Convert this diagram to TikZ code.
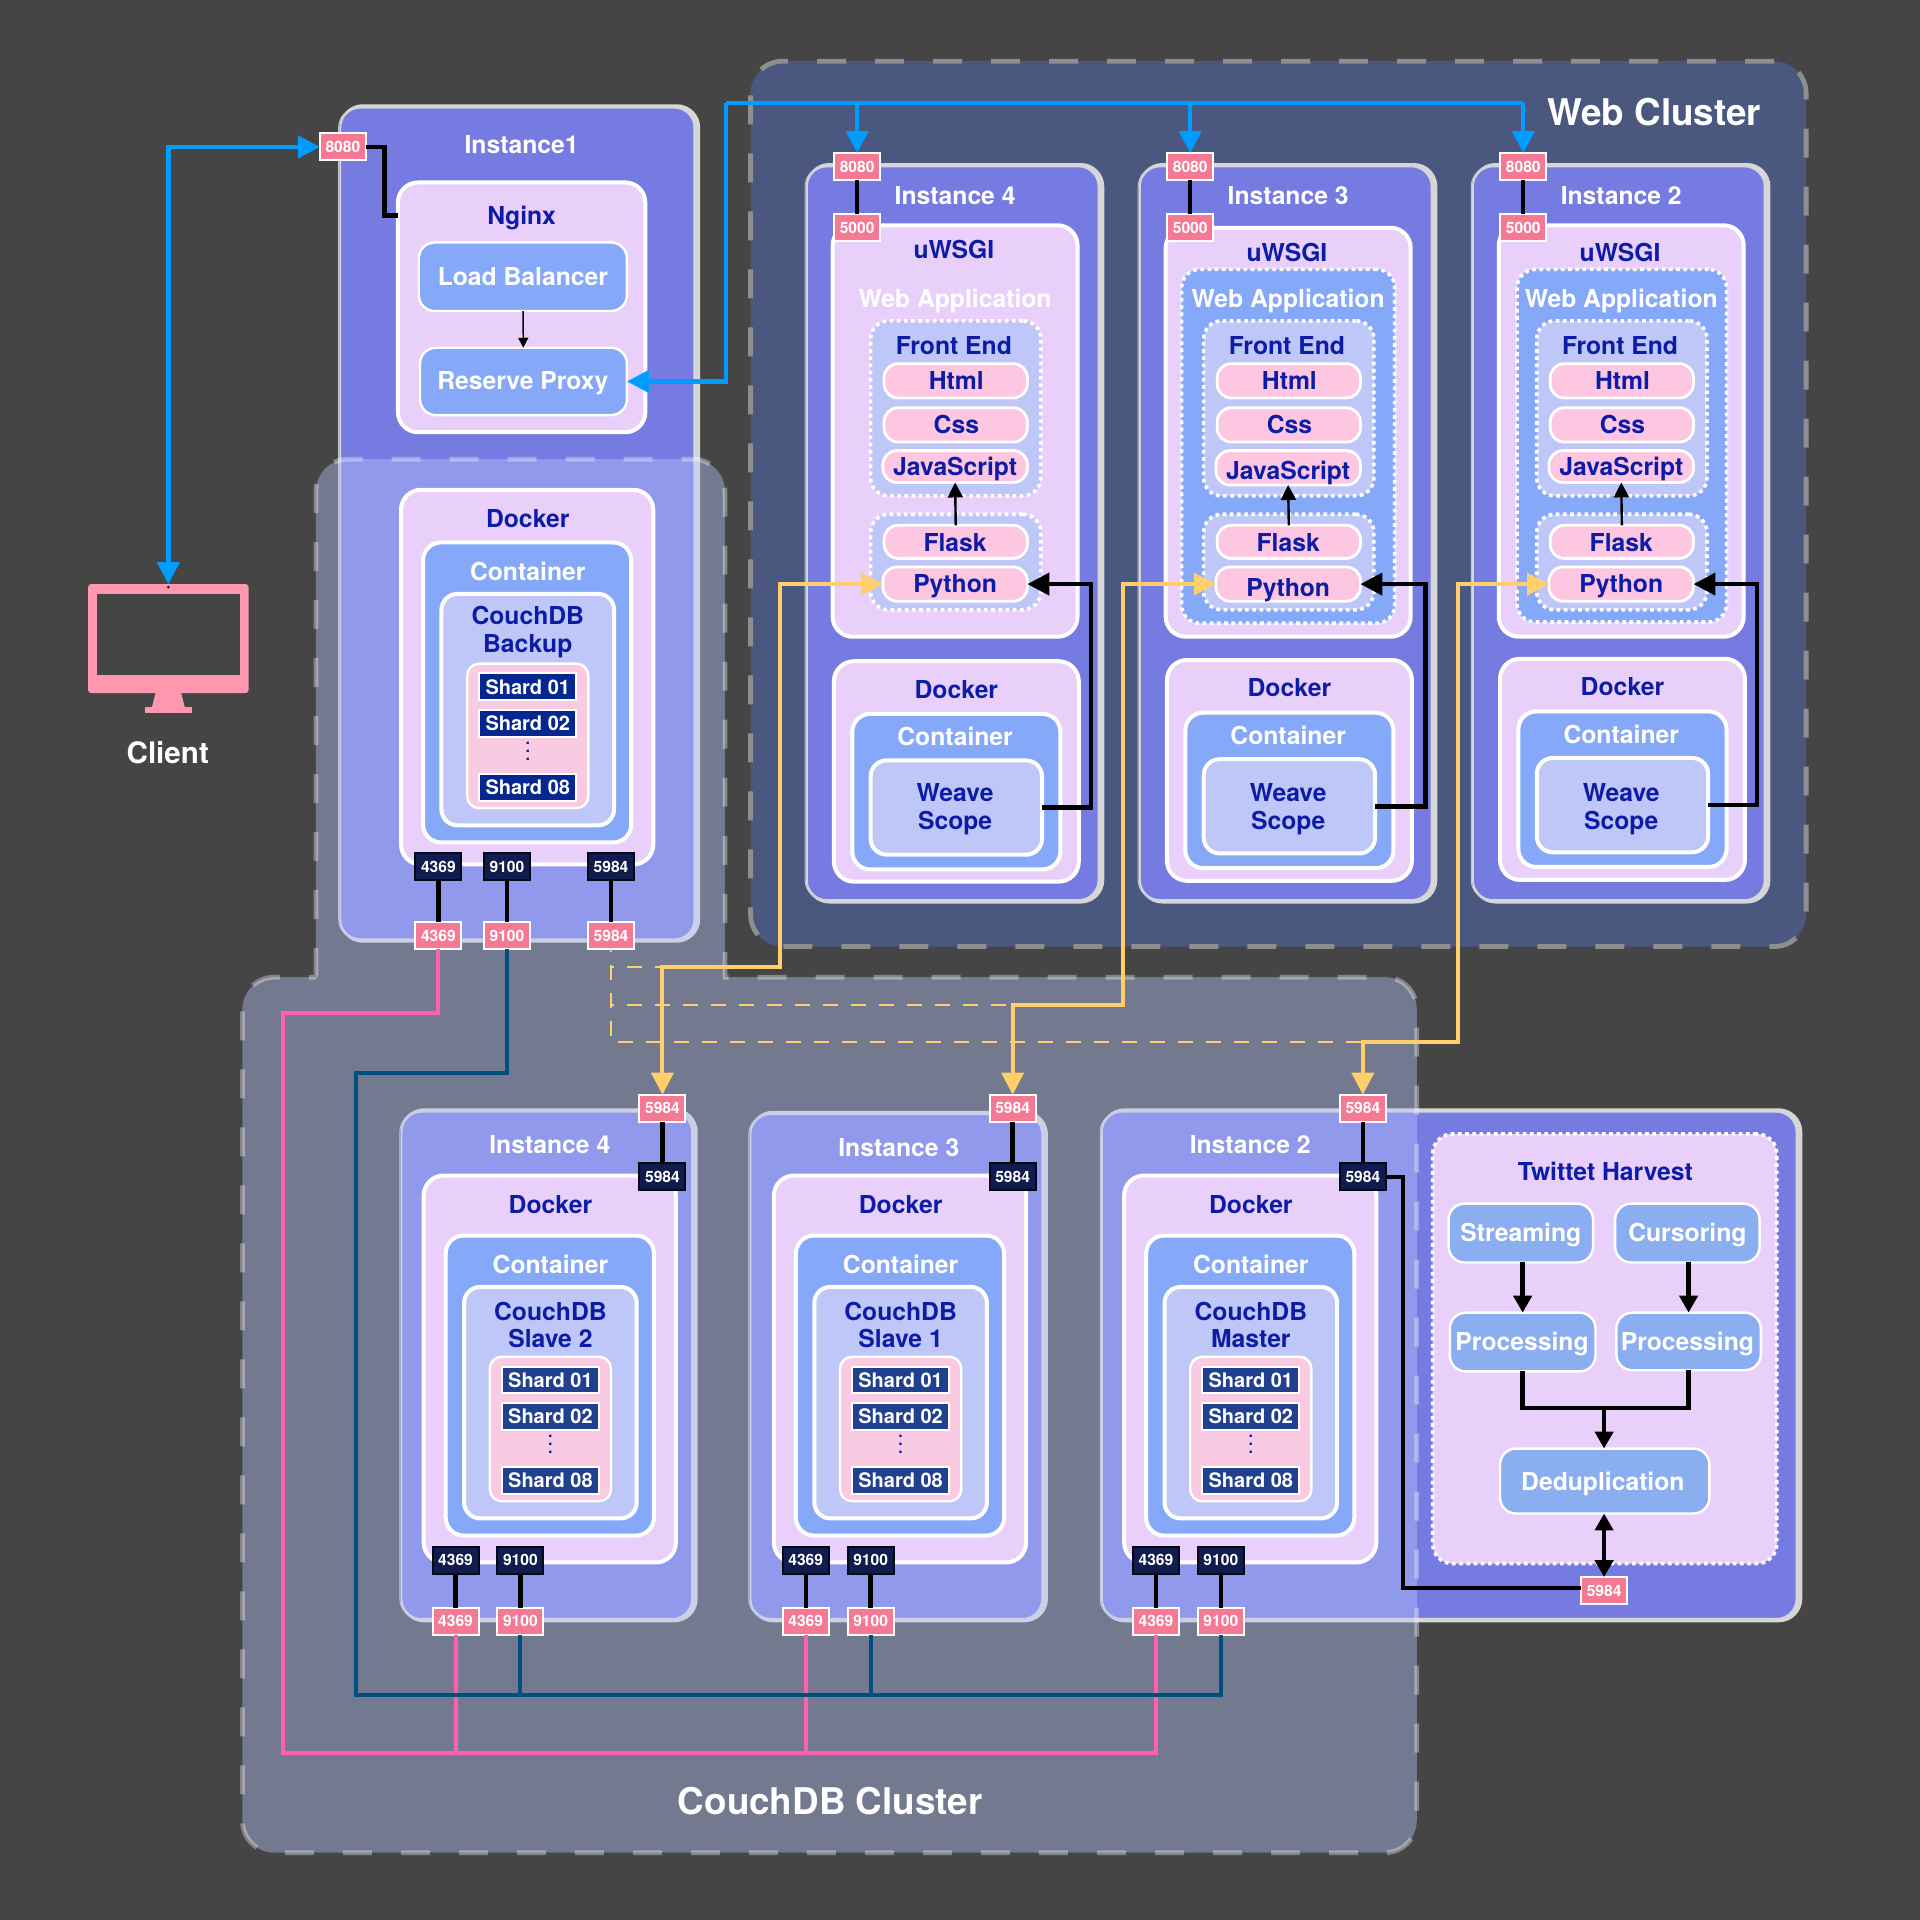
\documentclass[tikz,border=0pt]{standalone}
\usepackage{fontspec}
\setmainfont{TeX Gyre Heros}
\usetikzlibrary{arrows.meta}
\definecolor{backdrop}{HTML}{454545}
\definecolor{webfill}{HTML}{4A5880}
\definecolor{overlayfill}{HTML}{BAC7FF}
\definecolor{instfill}{HTML}{757BE0}
\definecolor{sketchgray}{HTML}{D6D6D6}
\definecolor{lilac}{HTML}{E9D0FB}
\definecolor{cornflower}{HTML}{85A9F8}
\definecolor{harvestblue}{HTML}{8BAEF0}
\definecolor{paleblue}{HTML}{BFC7F8}
\definecolor{pillpink}{HTML}{FDC7E2}
\definecolor{stackpink}{HTML}{F9CBE3}
\definecolor{sharddeep}{HTML}{06278F}
\definecolor{shardblue}{HTML}{21408F}
\definecolor{portred}{HTML}{F67994}
\definecolor{portnavy}{HTML}{101B4E}
\definecolor{screenpink}{HTML}{FF97AE}
\definecolor{wireblue}{HTML}{009CFF}
\definecolor{wireyellow}{HTML}{FFCF6B}
\definecolor{wirepink}{HTML}{FF5FB0}
\definecolor{wirenavy}{HTML}{00507F}
\definecolor{textnavy}{HTML}{0C1CA6}
\tikzset{
	plainbox/.style={inner sep=0pt,outer sep=0pt},
	instancebox/.style={plainbox,fill=instfill,draw=sketchgray,line width=.8pt,rounded corners=10pt,
		preaction={draw=sketchgray,line width=3.5pt,transform canvas={xshift=1.2pt}},
		preaction={draw=sketchgray!80!instfill,line width=.5pt,transform canvas={xshift=-.9pt}}},
	lilacbox/.style={plainbox,fill=lilac,draw=white,line width=2pt,rounded corners=10pt},
	bluebox/.style={plainbox,fill=cornflower,draw=white,line width=2pt,rounded corners=9pt},
	palebox/.style={plainbox,fill=paleblue,draw=white,line width=2pt,rounded corners=8pt},
	buttonbox/.style={plainbox,fill=cornflower,draw=white,line width=1.2pt,rounded corners=8pt},
	pillbox/.style={plainbox,fill=pillpink,draw=white,line width=1.4pt,rounded corners=7pt},
	stackbox/.style={plainbox,fill=stackpink,draw=white,line width=1.2pt,rounded corners=6pt},
	shardbox/.style={plainbox,draw=white,line width=1pt},
	dotbox/.style={plainbox,draw=white,line width=1.8pt,dash pattern=on 1.8pt off 1.8pt,rounded corners=9pt},
	portpink/.style={plainbox,fill=portred,draw=white,line width=1pt,minimum width=23pt,minimum height=13.5pt,text=white,font=\bfseries\fontsize{7.8}{9}\selectfont},
	portdark/.style={portpink,fill=portnavy,draw=black!70!portnavy},
	labelwhite/.style={inner sep=0pt,text=white,text height=8.8pt,text depth=0pt,font=\bfseries\fontsize{12.35}{14}\selectfont},
	labelnavy/.style={labelwhite,text=textnavy},
	labelshard/.style={labelwhite,text height=7.2pt,font=\bfseries\fontsize{10}{12}\selectfont},
	labeldots/.style={labelwhite,text=textnavy,text height=6pt,font=\bfseries\fontsize{8}{9}\selectfont},
	labelbig/.style={labelwhite,text height=13pt,font=\bfseries\fontsize{18.4}{22}\selectfont},
	blackwire/.style={draw=black,line width=2.2pt},
	bluewire/.style={draw=wireblue,line width=2.2pt},
	yellowwire/.style={draw=wireyellow,line width=2pt},
	yellowdash/.style={draw=wireyellow,line width=1pt,dash pattern=on 7.5pt off 6.5pt,dash phase=6pt},
	pinkwire/.style={draw=wirepink,line width=2pt},
	navywire/.style={draw=wirenavy,line width=2pt},
	bigtip/.style={-{Triangle[length=11pt,width=11pt]}}
}
%Box from its corners in picture units
\newcommand{\boxat}[6]{
	\node [#2,minimum width={((#5)-(#3))*0.61224pt},minimum height={((#6)-(#4))*0.61224pt}] (#1) at ({((#3)+(#5))/2},{((#4)+(#6))/2}) {};
}
\begin{document}
\begin{tikzpicture}[x=0.61224pt,y=-0.61224pt]
	\fill [backdrop] (0,0) rectangle (1568,1568);
	\useasboundingbox (0,0) rectangle (1568,1568);
	%Web cluster
	\boxat{webcluster}{plainbox,fill=webfill,draw=black!25!white!60!backdrop,line width=2.4pt,dash pattern=on 14.5pt off 14.5pt,rounded corners=16pt}{613}{50}{1475}{773}
	\boxat{instweba}{instancebox}{659}{136}{897}{735}
	\boxat{instwebb}{instancebox}{931}{136}{1169}{735}
	\boxat{instwebc}{instancebox}{1203}{136}{1441}{735}
	%Instances under the CouchDB cluster
	\boxat{instnginx}{instancebox}{278}{88}{567}{767}
	\boxat{instcouaa}{instancebox}{328}{908}{565}{1322}
	\boxat{instcoubb}{instancebox}{613}{910}{851}{1322}
	\boxat{instcoucc}{instancebox}{900}{908}{1467}{1322}
	%CouchDB cluster, see through
	\path [fill=overlayfill,fill opacity=.4,draw=white,draw opacity=.35,line width=2.4pt,dash pattern=on 14.5pt off 14.5pt]
		(258,798) [rounded corners=16pt] -- (258,375) -- (592,375) [sharp corners] -- (592,798) [rounded corners=16pt] -- (1157,798)
		-- (1157,1513) -- (198,1513) -- (198,798) [sharp corners] -- cycle;
	\node [labelbig] (webtitle) at (1351,92) {Web Cluster};
	\node [labelbig] (couchtitle) at (678,1471) {CouchDB Cluster};
	%Client
	\boxat{monitor}{plainbox,fill=screenpink,rounded corners=1.5pt}{72}{477}{203}{566}
	\boxat{screen}{plainbox,fill=backdrop}{79}{485}{196}{551}
	\fill [screenpink] (127,566) -- (148,566) -- (151,578) -- (124,578) -- cycle;
	\boxat{monitorfoot}{plainbox,fill=screenpink}{118.5}{577}{157}{582}
	\fill [black] (137.5,479.5) circle (.7pt);
	\node [labelwhite,text height=10.6pt,font=\bfseries\fontsize{14.8}{17}\selectfont] (client) at (137,615) {Client};
	%Nginx instance
	\node [labelwhite] (instnginxname) at (426,118) {Instance1};
	\boxat{nginx}{lilacbox}{325}{149}{527}{353}
	\node [labelnavy] (nginxname) at (426,176) {Nginx};
	\boxat{balancer}{buttonbox}{342}{198}{512}{254}
	\node [labelwhite] (balancername) at (427,226) {Load Balancer};
	\boxat{proxy}{buttonbox}{343}{284}{512}{339}
	\node [labelwhite] (proxyname) at (427,311) {Reserve Proxy};
	\node [portpink] (nginxport) at (280,120) {8080};
	%CouchDB stacks
	\foreach \n/\x/\y/\dt/\db/\sc/\ca/\cb/\lab in {back/-18.5/-566/400/706/sharddeep/-2/-1/Backup,aa/0/0/960/1276/shardblue/0/0/Slave 2,bb/286/0/960/1276/shardblue/0/0/Slave 1,cc/572/0/960/1276/shardblue/0/0/Master} {
		\boxat{docker\n}{lilacbox}{346+\x}{\dt}{552+\x}{\db}
		\node [labelnavy] (dockername\n) at ({449.5+\x},{\dt+24}) {Docker};
		\boxat{container\n}{bluebox}{364+\x}{1009+\y}{534+\x}{1254+\y}
		\node [labelwhite] (containername\n) at ({449.5+\x},{1033+\y}) {Container};
		\boxat{couch\n}{palebox}{379+\x}{1051+\y}{520+\x}{1240+\y}
		\node [labelnavy] (couchname\n) at ({449.5+\x},{1071+\y+\ca}) {CouchDB};
		\node [labelnavy] (couchrole\n) at ({449.5+\x},{1093+\y+\cb}) {\lab};
		\boxat{stack\n}{stackbox}{400+\x}{1108+\y}{499+\x}{1226+\y}
		\boxat{sharda\n}{shardbox,fill=\sc}{410+\x}{1116+\y}{489+\x}{1138+\y}
		\node [labelshard] (shardaname\n) at ({449.5+\x},{1127+\y}) {Shard 01};
		\boxat{shardb\n}{shardbox,fill=\sc}{410+\x}{1146+\y}{489+\x}{1168+\y}
		\node [labelshard] (shardbname\n) at ({449.5+\x},{1157+\y}) {Shard 02};
		\node [labeldots] (sharddots\n) at ({449.5+\x},{1182+\y}) {$\vdots$};
		\boxat{shardc\n}{shardbox,fill=\sc}{410+\x}{1198+\y}{489+\x}{1220+\y}
		\node [labelshard] (shardcname\n) at ({449.5+\x},{1209+\y}) {Shard 08};
	}
	\node [labelwhite] (instcounameaa) at (449,935) {Instance 4};
	\node [labelwhite] (instcounamebb) at (734,937) {Instance 3};
	\node [labelwhite] (instcounamecc) at (1021,935) {Instance 2};
	%CouchDB ports
	\node [portdark] (backdarka) at (358,708) {4369};
	\node [portdark] (backdarkb) at (414,708) {9100};
	\node [portdark] (backdarkc) at (499,708) {5984};
	\node [portpink] (backpinka) at (358,764) {4369};
	\node [portpink] (backpinkb) at (414,764) {9100};
	\node [portpink] (backpinkc) at (499,764) {5984};
	\foreach \n/\x/\u/\v in {aa/541/372/425,bb/827/658/711,cc/1113/944/997} {
		\node [portpink] (toppink\n) at (\x,905) {5984};
		\node [portdark] (topdark\n) at (\x,961) {5984};
		\node [portdark] (lowdarka\n) at (\u,1274) {4369};
		\node [portdark] (lowdarkb\n) at (\v,1274) {9100};
		\node [portpink] (lowpinka\n) at (\u,1324) {4369};
		\node [portpink] (lowpinkb\n) at (\v,1324) {9100};
		\draw [blackwire] (toppink\n) -- (topdark\n);
		\draw [blackwire] (lowdarka\n) -- (lowpinka\n);
		\draw [blackwire] (lowdarkb\n) -- (lowpinkb\n);
	}
	%Web instances
	\boxat{uwsgia}{lilacbox}{680}{184}{880}{520}
	\boxat{uwsgib}{lilacbox}{952}{186}{1152}{520}
	\boxat{uwsgic}{lilacbox}{1224}{184}{1424}{520}
	\boxat{appb}{dotbox,fill=cornflower}{965}{220}{1139}{509}
	\boxat{appc}{dotbox,fill=cornflower}{1239}{220}{1410}{508}
	\foreach \n/\x/\j/\d/\u/\nm in {a/0/0/0/204/Instance 4,b/272/3/-1/206/Instance 3,c/544/0/-2/206/Instance 2} {
		\node [labelwhite] (instname\n) at ({780+\x},160) {\nm};
		\node [labelnavy] (uwsginame\n) at ({779+\x},\u) {uWSGI};
		\node [labelwhite] (appname\n) at ({780+\x},244) {Web Application};
		\boxat{front\n}{dotbox,fill=paleblue}{711+\x}{262}{850+\x}{405}
		\node [labelnavy] (frontname\n) at ({779+\x},282) {Front End};
		\boxat{html\n}{pillbox}{722+\x}{297}{839+\x}{325}
		\node [labelnavy] (htmlname\n) at ({781+\x},311) {Html};
		\boxat{css\n}{pillbox}{722+\x}{333}{839+\x}{361}
		\node [labelnavy] (cssname\n) at ({781+\x},347) {Css};
		\boxat{script\n}{pillbox}{721+\x}{368}{839+\x}{394+\j*.7}
		\node [labelnavy] (scriptname\n) at ({780+\x},381+\j) {JavaScript};
		\boxat{back\n}{dotbox,fill=paleblue}{711+\x}{420}{850+\x}{498}
		\boxat{flask\n}{pillbox}{722+\x}{429}{839+\x}{456}
		\node [labelnavy] (flaskname\n) at ({780+\x},443) {Flask};
		\boxat{python\n}{pillbox}{721+\x}{463}{839+\x}{491}
		\node [labelnavy] (pythonname\n) at ({780+\x},477+\j) {Python};
		\draw [blackwire,line width=1.2pt,-{Triangle[length=7.5pt,width=7.5pt]}] (flask\n.north) -- (script\n.south);
		\boxat{dock\n}{lilacbox}{681+\x}{540+\d}{881+\x}{720+\d*.7}
		\node [labelnavy] (dockname\n) at ({781+\x},563+\d) {Docker};
		\boxat{cont\n}{bluebox}{696+\x}{583+\d}{866+\x}{710+\d}
		\node [labelwhite] (contname\n) at ({780+\x},602+\d) {Container};
		\boxat{weave\n}{palebox}{711+\x}{621+\d}{851+\x}{698+\d}
		\node [labelnavy] (weavename\n) at ({780+\x},647) {Weave};
		\node [labelnavy] (scopename\n) at ({780+\x},670) {Scope};
		\node [portpink] (webporta\n) at ({700+\x},136) {8080};
		\node [portpink] (webportb\n) at ({700+\x},186) {5000};
		\draw [blackwire] (webporta\n) -- (webportb\n);
	}
	%Twitter harvest
	\boxat{harvest}{dotbox,fill=lilac,rounded corners=10pt}{1170}{926}{1451}{1277}
	\node [labelnavy] (harvestname) at (1311,957) {Twittet Harvest};
	\boxat{streaming}{buttonbox,fill=harvestblue}{1183}{983}{1301}{1031}
	\node [labelwhite] (streamingname) at (1242,1007) {Streaming};
	\boxat{cursoring}{buttonbox,fill=harvestblue}{1319}{983}{1437}{1031}
	\node [labelwhite] (cursoringname) at (1378,1007) {Cursoring};
	\boxat{processa}{buttonbox,fill=harvestblue}{1184}{1072}{1303}{1120}
	\node [labelwhite] (processaname) at (1243,1096) {Processing};
	\boxat{processb}{buttonbox,fill=harvestblue}{1320}{1072}{1438}{1119}
	\node [labelwhite] (processbname) at (1378,1096) {Processing};
	\boxat{dedup}{buttonbox,fill=harvestblue}{1225}{1183}{1396}{1236}
	\node [labelwhite] (dedupname) at (1309,1210) {Deduplication};
	\node [portpink] (harvestport) at (1310,1299) {5984};
	%Wires of the Nginx instance
	\coordinate (nginxturn) at (314,120);
	\coordinate (busleft) at (593,84);
	\coordinate (busright) at (1244,84);
	\draw [blackwire] (nginxport.east) -- (nginxturn) |- (nginx.west |- nginxname);
	\draw [blackwire,line width=.7pt,-{Triangle[length=5pt,width=5pt]}] (balancer) -- (proxy);
	\draw [bluewire,{Triangle[length=11pt,width=11pt]}-{Triangle[length=11pt,width=11pt]}] (nginxport.west) -| (monitor.north);
	\draw [bluewire,bigtip] (busleft) |- (proxy.east);
	\draw [bluewire] (busleft) -- (busright);
	\draw [bluewire,bigtip] (webportaa.north |- busleft) -- (webportaa.north);
	\draw [bluewire,bigtip] (webportab.north |- busleft) -- (webportab.north);
	\draw [bluewire,bigtip] (webportac.north |- busleft) -- (webportac.north);
	%Wires of the CouchDB backup
	\draw [blackwire] (backdarka) -- (backpinka);
	\draw [blackwire] (backdarkb) -- (backpinkb);
	\draw [blackwire] (backdarkc) -- (backpinkc);
	\coordinate (pinkturn) at (231,827);
	\coordinate (pinkbus) at (231,1432);
	\coordinate (navyturn) at (291,876);
	\coordinate (navybus) at (291,1384);
	\draw [pinkwire] (backpinka.south) |- (pinkturn) -- (pinkbus) -- (lowpinkacc.south |- pinkbus) -- (lowpinkacc.south);
	\draw [pinkwire] (lowpinkaaa.south) -- (lowpinkaaa.south |- pinkbus);
	\draw [pinkwire] (lowpinkabb.south) -- (lowpinkabb.south |- pinkbus);
	\draw [navywire] (backpinkb.south) |- (navyturn) -- (navybus) -- (lowpinkbcc.south |- navybus) -- (lowpinkbcc.south);
	\draw [navywire] (lowpinkbaa.south) -- (lowpinkbaa.south |- navybus);
	\draw [navywire] (lowpinkbbb.south) -- (lowpinkbbb.south |- navybus);
	%Wires from Weave Scope to Python
	\coordinate (weaveturna) at (891,477);
	\coordinate (weaveturnb) at (1164,477);
	\coordinate (weaveturnc) at (1435,477);
	\draw [blackwire,bigtip] (weavea.east) -| (weaveturna) -- (pythona.east);
	\draw [blackwire,bigtip] (weaveb.east) -| (weaveturnb) -- (pythonb.east);
	\draw [blackwire,bigtip] (weavec.east) -| (weaveturnc) -- (pythonc.east);
	%Wires from Python to CouchDB
	\coordinate (yellowturna) at (637,790);
	\coordinate (yellowturnb) at (917,821);
	\coordinate (yellowturnc) at (1191,851);
	\draw [yellowdash] (backpinkc.south) |- (toppinkcc.north |- yellowturnc);
	\draw [yellowdash] (backpinkc.south |- yellowturna) -- (toppinkaa.north |- yellowturna);
	\draw [yellowdash] (backpinkc.south |- yellowturnb) -- (toppinkbb.north |- yellowturnb);
	\draw [yellowwire,{Triangle[length=11pt,width=11pt]}-{Triangle[length=11pt,width=11pt]}] (pythona.west) -| (yellowturna) -| (toppinkaa.north);
	\draw [yellowwire,{Triangle[length=11pt,width=11pt]}-{Triangle[length=11pt,width=11pt]}] (pythonb.west) -| (yellowturnb) -| (toppinkbb.north);
	\draw [yellowwire,{Triangle[length=11pt,width=11pt]}-{Triangle[length=11pt,width=11pt]}] (pythonc.west) -| (yellowturnc) -| (toppinkcc.north);
	%Wires of the harvest
	\coordinate (mergeleft) at (1243,1150);
	\coordinate (mergeright) at (1379,1150);
	\coordinate (mergemid) at (1310,1150);
	\coordinate (harvestturn) at (1146,1297);
	\draw [blackwire,-{Triangle[length=8.5pt,width=9pt]}] (streaming.south -| processa) -- (processa.north);
	\draw [blackwire,-{Triangle[length=8.5pt,width=9pt]}] (cursoring.south -| processb) -- (processb.north);
	\draw [blackwire] (processa.south) |- (mergeright) -- (processb.south -| mergeright);
	\draw [blackwire,-{Triangle[length=8.5pt,width=9pt]}] (mergemid) -- (dedup.north -| mergemid);
	\draw [blackwire,{Triangle[length=8.5pt,width=9pt]}-{Triangle[length=8.5pt,width=9pt]}] (dedup.south -| harvestport) -- (harvestport.north);
	\draw [blackwire] (topdarkcc.east) -| (harvestturn) -- (harvestport.west |- harvestturn);
\end{tikzpicture}
\end{document}
